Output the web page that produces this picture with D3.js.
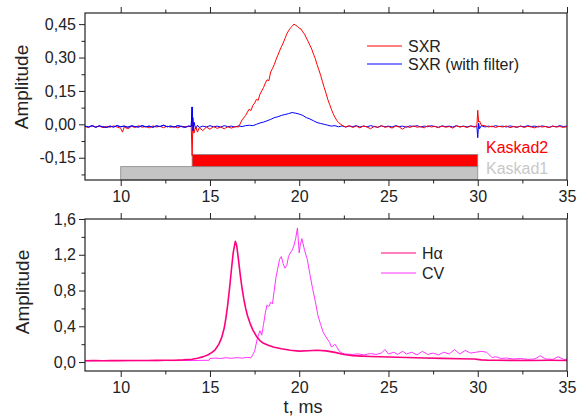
<!DOCTYPE html>
<html>
<head>
<meta charset="utf-8">
<script src="https://cdn.jsdelivr.net/npm/d3@7/dist/d3.min.js"></script>
<style>
body { margin: 0; background: #fff; }
svg { display: block; font-family: "Liberation Sans", Arial, sans-serif; }
.axis path { display: none; }
.axis line { stroke: #222; stroke-width: 1; }
.axis text { font-size: 16px; fill: #222; }
</style>
</head>
<body>
<svg id="chart" width="577" height="416"></svg>
<script>
// time range and tick values
var xDomain = [8, 35];
var xMajor = [10, 15, 20, 25, 30, 35];
var xMinor = [12.5, 17.5, 22.5, 27.5, 32.5];
var topMajor = [-0.15, 0, 0.15, 0.30, 0.45];
var topMinor = [-0.225, -0.075, 0.075, 0.225, 0.375];
var botMajor = [0, 0.4, 0.8, 1.2, 1.6];
var botMinor = [0.2, 0.6, 1.0, 1.4];

// SXR signal [t, amplitude]
var sxr = [[8.0,-0.010],[8.2,-0.014],[8.4,-0.006],[8.6,-0.012],[8.8,-0.008],[9.0,-0.015],[9.2,-0.009],[9.4,-0.013],
  [9.6,-0.007],[9.8,-0.012],[10.0,-0.018],[10.1,-0.035],[10.2,-0.012],[10.4,-0.020],[10.6,-0.009],[10.8,-0.014],
  [11.0,-0.006],[11.2,-0.013],[11.4,-0.010],[11.6,-0.016],[11.8,-0.007],[12.0,-0.012],[12.2,-0.009],[12.4,-0.015],
  [12.6,-0.008],[12.8,-0.013],[13.0,-0.010],[13.2,-0.016],[13.4,-0.008],[13.6,-0.012],[13.8,-0.010],[13.95,-0.008],
  [14.0,-0.140],[14.05,0.030],[14.1,-0.040],[14.2,-0.010],[14.3,-0.035],[14.4,-0.015],[14.6,-0.028],[14.8,-0.012],
  [15.0,-0.022],[15.2,-0.010],[15.4,-0.018],[15.6,-0.012],[15.8,-0.020],[16.0,-0.011],[16.2,-0.017],[16.4,-0.010],
  [16.6,-0.012],[16.8,0.020],[17.0,0.040],[17.1,0.055],[17.2,0.068],[17.3,0.062],[17.4,0.085],[17.5,0.095],
  [17.6,0.112],[17.7,0.108],[17.8,0.135],[17.9,0.150],[18.0,0.165],[18.1,0.185],[18.2,0.200],[18.3,0.196],
  [18.4,0.235],[18.5,0.250],[18.6,0.268],[18.7,0.290],[18.8,0.310],[18.9,0.330],[19.0,0.348],[19.1,0.365],
  [19.2,0.385],[19.3,0.405],[19.4,0.420],[19.5,0.432],[19.6,0.440],[19.7,0.450],[19.8,0.445],[19.9,0.440],
  [20.0,0.432],[20.1,0.428],[20.2,0.415],[20.3,0.405],[20.4,0.388],[20.5,0.372],[20.6,0.355],[20.7,0.338],
  [20.8,0.315],[20.9,0.295],[21.0,0.268],[21.1,0.245],[21.2,0.220],[21.3,0.192],[21.4,0.165],[21.5,0.140],
  [21.6,0.112],[21.7,0.090],[21.8,0.068],[21.9,0.048],[22.0,0.032],[22.1,0.018],[22.2,0.008],[22.4,-0.004],
  [22.6,-0.012],[22.8,-0.006],[23.0,-0.014],[23.2,-0.008],[23.4,-0.016],[23.6,-0.007],[23.8,-0.012],[24.0,-0.020],
  [24.2,-0.009],[24.4,-0.014],[24.6,-0.006],[24.8,-0.013],[25.0,-0.010],[25.2,-0.017],[25.4,-0.008],[25.6,-0.012],
  [25.8,-0.022],[26.0,-0.009],[26.2,-0.014],[26.4,-0.007],[26.6,-0.013],[26.8,-0.010],[27.0,-0.016],[27.2,-0.006],
  [27.4,-0.012],[27.6,-0.009],[27.8,-0.015],[28.0,-0.008],[28.2,-0.013],[28.4,-0.010],[28.6,-0.017],[28.8,-0.007],
  [29.0,-0.012],[29.2,-0.009],[29.4,-0.014],[29.6,-0.008],[29.8,-0.012],[29.95,-0.010],[30.0,0.063],[30.05,0.010],
  [30.1,0.015],[30.2,-0.004],[30.4,-0.006],[30.6,-0.012],[30.8,-0.008],[31.0,-0.014],[31.2,-0.009],[31.4,-0.012],
  [31.6,-0.007],[31.8,-0.015],[32.0,-0.010],[32.2,-0.013],[32.4,-0.008],[32.6,-0.014],[32.8,-0.009],[33.0,-0.012],
  [33.2,-0.016],[33.4,-0.008],[33.6,-0.012],[33.8,-0.010],[34.0,-0.015],[34.2,-0.008],[34.4,-0.012],[34.6,-0.010],
  [34.8,-0.014],[35.0,-0.010]];

// SXR (with filter) [t, amplitude]
var sxrFilter = [[8.0,-0.008],[8.2,-0.012],[8.4,-0.006],[8.6,-0.013],[8.8,-0.007],[9.0,-0.011],[9.2,-0.014],[9.4,-0.008],
  [9.6,-0.012],[9.8,-0.006],[10.0,-0.011],[10.2,-0.008],[10.4,-0.013],[10.6,-0.007],[10.8,-0.010],[11.0,-0.012],
  [11.2,-0.006],[11.4,-0.011],[11.6,-0.008],[11.8,-0.013],[12.0,-0.007],[12.2,-0.010],[12.4,-0.004],[12.6,-0.011],
  [12.8,-0.008],[13.0,-0.012],[13.2,-0.006],[13.4,-0.010],[13.6,-0.013],[13.8,-0.008],[13.95,-0.010],[14.0,0.078],
  [14.05,-0.030],[14.1,0.010],[14.2,-0.020],[14.3,-0.004],[14.4,-0.014],[14.6,-0.008],[14.8,-0.012],[15.0,-0.006],
  [15.2,-0.011],[15.4,-0.008],[15.6,-0.012],[15.8,-0.006],[16.0,-0.010],[16.2,-0.008],[16.4,-0.012],[16.6,-0.007],
  [16.8,-0.010],[17.0,-0.006],[17.2,-0.004],[17.4,-0.006],[17.6,0.000],[17.8,0.006],[18.0,0.010],[18.2,0.016],
  [18.4,0.022],[18.6,0.030],[18.8,0.034],[19.0,0.040],[19.2,0.044],[19.4,0.048],[19.6,0.053],[19.8,0.050],
  [20.0,0.046],[20.2,0.040],[20.4,0.030],[20.6,0.024],[20.8,0.016],[21.0,0.008],[21.2,0.004],[21.4,0.000],
  [21.6,-0.004],[21.8,-0.008],[22.0,-0.006],[22.2,-0.011],[22.4,-0.007],[22.6,-0.012],[22.8,-0.008],[23.0,-0.010],
  [23.2,-0.006],[23.4,-0.012],[23.6,-0.008],[23.8,-0.011],[24.0,-0.006],[24.2,-0.010],[24.4,-0.013],[24.6,-0.007],
  [24.8,-0.011],[25.0,-0.008],[25.2,-0.012],[25.4,-0.006],[25.6,-0.010],[25.8,-0.008],[26.0,-0.013],[26.2,-0.007],
  [26.4,-0.010],[26.6,-0.006],[26.8,-0.012],[27.0,-0.008],[27.2,-0.011],[27.4,-0.006],[27.6,-0.010],[27.8,-0.013],
  [28.0,-0.007],[28.2,-0.010],[28.4,-0.008],[28.6,-0.012],[28.8,-0.006],[29.0,-0.011],[29.2,-0.008],[29.4,-0.012],
  [29.6,-0.007],[29.8,-0.010],[29.95,-0.008],[30.0,-0.060],[30.05,0.005],[30.1,-0.020],[30.2,-0.006],[30.4,-0.012],
  [30.6,-0.008],[30.8,-0.011],[31.0,-0.006],[31.2,-0.010],[31.4,-0.008],[31.6,-0.012],[31.8,-0.007],[32.0,-0.010],
  [32.2,-0.013],[32.4,-0.008],[32.6,-0.011],[32.8,-0.006],[33.0,-0.010],[33.2,-0.008],[33.4,-0.012],[33.6,-0.007],
  [33.8,-0.010],[34.0,-0.013],[34.2,-0.008],[34.4,-0.011],[34.6,-0.006],[34.8,-0.010],[35.0,-0.008]];

// timing bars: start, end, low, high
var kaskadNames = ["Kaskad1", "Kaskad2"];
var kaskadStart = [10, 14];
var kaskadEnd = [30, 30];
var kaskadLow = [-0.25, -0.19];
var kaskadHigh = [-0.19, -0.135];

// H-alpha [t, amplitude]
var halpha = [[8.0,0.015],[8.5,0.016],[9.0,0.015],[9.5,0.017],[10.0,0.016],[10.5,0.017],[11.0,0.018],[11.5,0.018],
  [12.0,0.019],[12.5,0.020],[13.0,0.021],[13.5,0.024],[14.0,0.032],[14.3,0.042],[14.6,0.058],[14.9,0.082],
  [15.1,0.105],[15.3,0.140],[15.5,0.200],[15.65,0.270],[15.8,0.380],[15.9,0.500],[16.0,0.650],[16.1,0.830],
  [16.2,1.030],[16.3,1.220],[16.42,1.350],[16.5,1.300],[16.6,1.140],[16.7,0.970],[16.8,0.820],[16.9,0.700],
  [17.0,0.600],[17.1,0.520],[17.25,0.430],[17.4,0.360],[17.6,0.290],[17.8,0.240],[18.0,0.210],[18.3,0.185],
  [18.6,0.165],[19.0,0.148],[19.5,0.132],[20.0,0.122],[20.5,0.126],[21.0,0.132],[21.5,0.125],[22.0,0.108],
  [22.5,0.085],[23.0,0.072],[23.5,0.066],[24.0,0.062],[25.0,0.056],[26.0,0.051],[27.0,0.046],[28.0,0.041],
  [29.0,0.037],[29.8,0.034],[30.2,0.024],[30.6,0.020],[31.0,0.020],[32.0,0.019],[33.0,0.018],[34.0,0.020],
  [35.0,0.018]];

// CV [t, amplitude]
var cv = [[8.0,0.015],[8.5,0.014],[9.0,0.016],[9.5,0.015],[10.0,0.017],[10.5,0.015],[11.0,0.016],[11.5,0.017],
  [12.0,0.015],[12.5,0.017],[13.0,0.016],[13.5,0.018],[14.0,0.017],[14.5,0.019],[14.95,0.020],[15.0,0.040],
  [15.3,0.045],[15.6,0.040],[15.9,0.048],[16.2,0.042],[16.5,0.050],[16.8,0.044],[17.1,0.052],[17.3,0.048],
  [17.5,0.120],[17.65,0.260],[17.8,0.350],[17.9,0.300],[18.0,0.420],[18.1,0.550],[18.2,0.640],[18.3,0.620],
  [18.4,0.670],[18.5,0.650],[18.6,0.800],[18.7,0.950],[18.8,1.050],[18.9,1.150],[19.0,1.180],[19.1,1.100],
  [19.2,1.050],[19.3,1.080],[19.4,1.180],[19.5,1.220],[19.6,1.250],[19.7,1.300],[19.8,1.380],[19.9,1.500],
  [20.0,1.220],[20.05,1.300],[20.15,1.380],[20.3,1.250],[20.45,1.150],[20.6,0.980],[20.75,0.820],[20.9,0.680],
  [21.05,0.520],[21.2,0.420],[21.35,0.330],[21.5,0.280],[21.7,0.220],[21.8,0.170],[21.9,0.180],[22.0,0.200],
  [22.1,0.170],[22.25,0.120],[22.4,0.100],[22.6,0.090],[23.0,0.085],[23.3,0.092],[23.6,0.080],[24.0,0.095],
  [24.3,0.085],[24.6,0.100],[24.8,0.140],[25.0,0.090],[25.3,0.110],[25.5,0.085],[25.8,0.120],[26.0,0.090],
  [26.3,0.110],[26.6,0.080],[26.9,0.120],[27.2,0.085],[27.5,0.100],[27.8,0.080],[28.1,0.110],[28.4,0.090],
  [28.7,0.140],[29.0,0.090],[29.3,0.130],[29.6,0.100],[29.9,0.110],[30.2,0.120],[30.5,0.110],[30.8,0.050],
  [31.0,0.060],[31.3,0.040],[31.6,0.045],[32.0,0.035],[32.4,0.040],[32.8,0.030],[33.2,0.035],[33.5,0.070],
  [33.8,0.035],[34.2,0.030],[34.5,0.060],[34.8,0.030],[35.0,0.030]];

var svg = d3.select("#chart");
var left = 85, right = 567;

var x = d3.scaleLinear().domain(xDomain).range([left, right]);
var yTop = d3.scaleLinear().domain([-0.25, 0.5]).range([180, 13]);
var yBot = d3.scaleLinear().domain([-0.1, 1.6]).range([371, 219]);

function fmt(d, n) {
	return d3.format("." + n + "f")(d).replace("\u2212", "-").replace(".", ",");
}

function drawAxes(y, major, minor, digits, top, bottom) {
	// bottom axis with labels
	svg.append("g").attr("class", "axis")
		.attr("transform", "translate(0," + bottom + ")")
		.call(d3.axisBottom(x).tickValues(xMajor).tickSize(6).tickPadding(4).tickFormat(d3.format("d")))
		.selectAll("text").attr("dy", "0.75em");
	svg.append("g").attr("class", "axis")
		.attr("transform", "translate(0," + bottom + ")")
		.call(d3.axisBottom(x).tickValues(xMinor).tickSize(3.5).tickFormat(""));
	// top axis, no labels
	svg.append("g").attr("class", "axis")
		.attr("transform", "translate(0," + top + ")")
		.call(d3.axisTop(x).tickValues(xMajor).tickSize(6).tickFormat(""));
	svg.append("g").attr("class", "axis")
		.attr("transform", "translate(0," + top + ")")
		.call(d3.axisTop(x).tickValues(xMinor).tickSize(3.5).tickFormat(""));
	// left axis
	svg.append("g").attr("class", "axis")
		.attr("transform", "translate(" + left + ",0)")
		.call(d3.axisLeft(y).tickValues(major).tickSize(6).tickPadding(3)
			.tickFormat(function(d) { return fmt(d, digits); }));
	svg.append("g").attr("class", "axis")
		.attr("transform", "translate(" + left + ",0)")
		.call(d3.axisLeft(y).tickValues(minor).tickSize(3.5).tickFormat(""));
}

function drawLine(data, y, color, width) {
	svg.append("path")
		.datum(data)
		.attr("fill", "none")
		.attr("stroke", color)
		.attr("stroke-width", width)
		.attr("stroke-linejoin", "round")
		.attr("d", d3.line().x(function(d) { return x(d[0]); }).y(function(d) { return y(d[1]); }));
}

function legendItem(x1, y0, color, label) {
	svg.append("line")
		.attr("x1", x1).attr("x2", x1 + 35)
		.attr("y1", y0).attr("y2", y0)
		.attr("stroke", color).attr("stroke-width", 1.2);
	svg.append("text")
		.attr("x", x1 + 41).attr("y", y0 + 6)
		.attr("font-size", "16px").attr("fill", "#222")
		.text(label);
}

// ---- top panel ----
var kColors = ["#c4c4c4", "#ff0000"];
kaskadNames.forEach(function(name, i) {
	svg.append("rect")
		.attr("x", x(kaskadStart[i]))
		.attr("y", yTop(kaskadHigh[i]))
		.attr("width", x(kaskadEnd[i]) - x(kaskadStart[i]))
		.attr("height", yTop(kaskadLow[i]) - yTop(kaskadHigh[i]))
		.attr("fill", kColors[i])
		.attr("stroke", "#8a8a8a")
		.attr("stroke-width", 0.8);
});

drawLine(sxrFilter, yTop, "#0000ff", 1);
drawLine(sxr, yTop, "#ff0000", 1);
drawLine(sxrFilter.filter(function(d) { return d[0] < 14.2; }), yTop, "#0000ff", 1);

svg.append("rect").attr("x", left).attr("y", 13).attr("width", right - left).attr("height", 167)
	.attr("fill", "none").attr("stroke", "#222").attr("stroke-width", 1.2);
drawAxes(yTop, topMajor, topMinor, 2, 13, 180);

legendItem(367, 46, "#ff0000", "SXR");
legendItem(367, 64, "#0000ff", "SXR (with filter)");

svg.append("text").attr("x", 486).attr("y", 153).attr("font-size", "16px")
	.attr("fill", "#ff0000").text(kaskadNames[1]);
svg.append("text").attr("x", 486).attr("y", 174).attr("font-size", "16px")
	.attr("fill", "#c8c8c8").text(kaskadNames[0]);

svg.append("text")
	.attr("transform", "translate(28,87) rotate(-90)")
	.attr("text-anchor", "middle")
	.attr("font-size", "19px").attr("fill", "#222")
	.text("Amplitude");

// ---- bottom panel ----
drawLine(cv, yBot, "#ff33ff", 1);
drawLine(halpha, yBot, "#ff0080", 1.6);

svg.append("rect").attr("x", left).attr("y", 219).attr("width", right - left).attr("height", 152)
	.attr("fill", "none").attr("stroke", "#222").attr("stroke-width", 1.2);
drawAxes(yBot, botMajor, botMinor, 1, 219, 371);

legendItem(381, 253, "#ff0080", "H\u03b1");
legendItem(381, 273, "#ff33ff", "CV");

svg.append("text")
	.attr("transform", "translate(29,292) rotate(-90)")
	.attr("text-anchor", "middle")
	.attr("font-size", "19px").attr("fill", "#222")
	.text("Amplitude");

svg.append("text")
	.attr("x", 303).attr("y", 413)
	.attr("text-anchor", "middle")
	.attr("font-size", "18px").attr("fill", "#222")
	.text("t, ms");
</script>
</body>
</html>
